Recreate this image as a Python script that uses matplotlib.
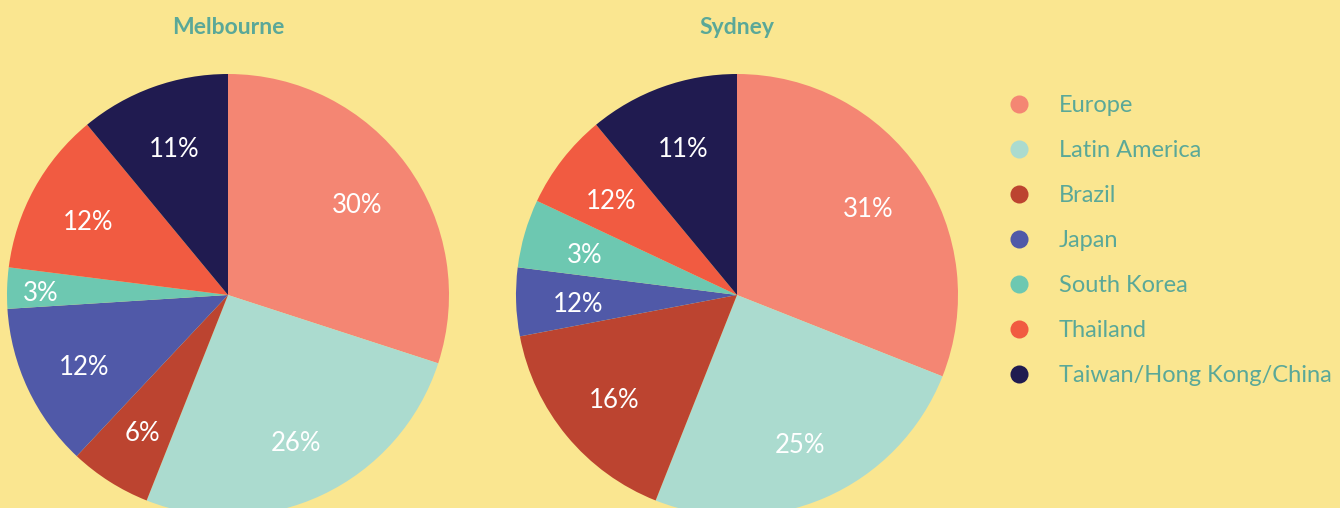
import numpy as np
import matplotlib.pyplot as plt
from matplotlib.lines import Line2D

# regions, in drawing order (clockwise from 12 o'clock)
regions = ['Europe', 'Latin America', 'Brazil', 'Japan', 'South Korea',
           'Thailand', 'Taiwan/Hong Kong/China']
colors = ['#F48673', '#ABDBCF', '#BC4430', '#5059A8', '#6DC8B1',
          '#F15B41', '#201B50']

# slice sizes as drawn, and the percentages printed on them
melbourne_shares = [30, 26, 6, 12, 3, 12, 11]
melbourne_labels = ['30%', '26%', '6%', '12%', '3%', '12%', '11%']
sydney_shares = [31, 25, 16, 5, 5, 7, 11]
sydney_labels = ['31%', '25%', '16%', '12%', '3%', '12%', '11%']

bg = '#FAE690'
teal = '#5AA898'
plt.rcParams['font.family'] = ['Lato', 'DejaVu Sans']

W, H = 1340, 508
fig = plt.figure(figsize=(W / 100, H / 100), dpi=100, facecolor=bg)


def draw_pie(cx, cy, r, shares, labels, title, label_r=None):
    # cx, cy, r in pixels (y from top)
    ax = fig.add_axes([(cx - r) / W, (H - cy - r) / H, 2 * r / W, 2 * r / H])
    wedges, _ = ax.pie(shares, colors=colors, startangle=90, counterclock=False,
                       radius=1, wedgeprops=dict(linewidth=0))
    ax.set_xlim(-1, 1)
    ax.set_ylim(-1, 1)
    ax.axis('off')
    for i, (w, lab) in enumerate(zip(wedges, labels)):
        a = np.deg2rad((w.theta1 + w.theta2) / 2)
        d = 0.72 if label_r is None else label_r.get(i, 0.72)
        ax.text(d * np.cos(a), d * np.sin(a) - 0.02, lab, color='white',
                fontsize=18.5, fontweight='normal', ha='center', va='center')
    fig.text(cx / W, 1 - 27 / H, title, color=teal, fontsize=16.5,
             fontweight='bold', ha='center', va='center')


draw_pie(228, 295, 221, melbourne_shares, melbourne_labels, 'Melbourne', {4: 0.85})
draw_pie(737, 295, 221, sydney_shares, sydney_labels, 'Sydney')

handles = [Line2D([], [], marker='o', linestyle='none', markersize=13,
                  markerfacecolor=c, markeredgewidth=0) for c in colors]
leg = fig.legend(handles, regions, loc='upper left',
                 bbox_to_anchor=(995 / W, 1 - 83 / H), frameon=False,
                 fontsize=17, labelspacing=1.02, handlelength=1,
                 handletextpad=1.2, borderpad=0)
for t in leg.get_texts():
    t.set_color(teal)

fig.savefig('out.png', dpi=100, facecolor=bg)
